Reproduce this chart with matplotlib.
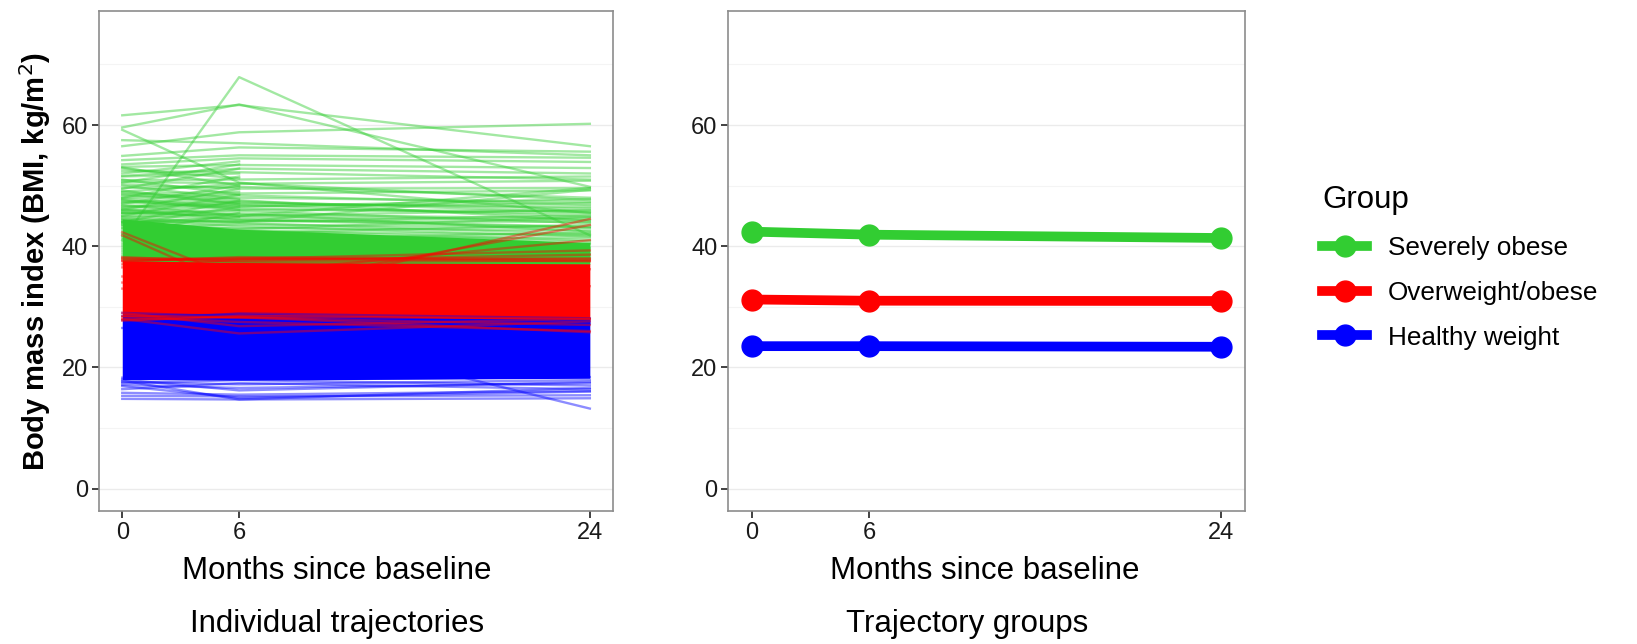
import numpy as np
import matplotlib
matplotlib.use("Agg")
import matplotlib.pyplot as plt
from matplotlib.lines import Line2D

plt.rcParams["font.family"] = ["Liberation Sans", "DejaVu Sans"]

months = [0, 6, 24]
groups = ["Severely obese", "Overweight/obese", "Healthy weight"]
colors = {"Severely obese": "#32CD32", "Overweight/obese": "#FF0000", "Healthy weight": "#0000FF"}

# group mean trajectories (BMI at 0, 6, 24 months)
mean_severe = [42.4, 41.9, 41.35]
mean_overweight = [31.2, 31.0, 30.95]
mean_healthy = [23.5, 23.5, 23.4]

# densest part of each group, where the individual lines merge into a solid band
core_severe_lo = [37.0, 37.0, 37.0]
core_severe_hi = [44.5, 42.8, 40.6]
core_overweight_lo = [28.4, 28.2, 28.0]
core_overweight_hi = [37.6, 37.3, 37.1]
core_healthy_lo = [18.0, 17.9, 18.2]
core_healthy_hi = [28.6, 28.4, 28.2]

nan = np.nan

# individual trajectories outside / at the edge of the dense bands
traj_severe = [
    [61.6, 63.3, 56.5], [59.6, 63.4, 49.8], [41.0, 67.9, 41.8], [59.2, 50.5, 45.5],
    [56.5, 58.8, 60.2], [54.9, 56.3, 55.6], [53.5, 54.5, 53.9], [53.1, 53.4, 52.9],
    [51.6, 52.8, 52.0], [50.9, 51.0, 51.5], [50.2, 49.5, 49.6], [49.0, 50.3, 50.8],
    [48.2, 48.7, 49.2], [47.3, 48.0, 47.3], [46.5, 47.0, 46.5], [57.5, 57.0, 55.0],
    [52.0, 54.0, nan], [50.5, 53.5, nan], [49.5, 52.8, nan], [48.0, 51.5, nan],
    [47.0, 50.0, nan], [46.0, 49.5, nan], [45.0, 48.5, nan], [44.0, 47.5, nan],
    [43.5, 46.5, nan], [42.0, 45.5, nan], [53.0, 50.0, nan], [51.0, 48.5, nan],
    [50.0, 47.8, nan], [49.2, 46.9, nan], [48.6, 49.0, nan], [47.6, 46.0, nan],
    [46.6, 47.2, nan], [45.6, 44.8, nan], [51.5, 52.0, nan], [52.8, 51.2, nan],
    [46.0, 45.2, 44.6], [45.5, 46.0, 45.8], [45.0, 44.5, 43.2], [44.6, 44.0, 45.1],
    [44.2, 43.8, 42.0], [43.8, 44.8, 44.3], [43.3, 42.5, 41.8], [42.9, 43.0, 42.6],
    [42.5, 42.0, 40.8], [42.1, 41.5, 41.4], [41.7, 41.9, 40.3], [41.2, 40.8, 39.8],
    [40.8, 41.2, 42.2], [40.4, 40.0, 39.2], [40.0, 39.6, 40.5], [39.6, 39.8, 38.8],
    [39.2, 38.9, 39.6], [38.8, 38.6, 38.2], [38.4, 38.8, 37.9], [38.0, 37.7, 38.6],
    [47.8, 46.5, 47.8], [46.8, 45.0, 46.0], [45.3, 45.8, 43.8], [44.0, 42.8, 44.8],
    [43.0, 43.6, 43.0], [44.5, 44.0, 49.3], [45.5, 45.0, 49.6], [48.5, 47.2, 46.2],
    [47.5, 46.2, 45.4], [46.3, 46.8, 44.9], [43.6, 42.2, 43.5], [41.5, 42.6, 41.0],
    [48.9, 47.6, 44.2], [47.1, 47.4, 45.6], [46.1, 44.3, 43.1], [45.8, 46.6, 47.1],
    [44.8, 45.4, 42.4], [44.3, 43.3, 41.6], [43.9, 44.2, 44.0], [47.9, 48.4, 46.8],
    [49.6, 49.8, 48.0], [50.6, 50.4, 47.6], [52.4, 52.2, 51.0], [54.2, 55.0, 54.6],
]
traj_overweight = [
    [41.8, 33.3, 33.4], [42.3, 34.7, nan], [33.0, 31.5, 44.5], [34.0, 33.0, 43.5],
    [35.0, 35.5, 41.0], [37.5, 38.2, 37.8], [37.8, 37.6, 38.6], [38.0, 37.9, 39.3],
    [37.6, 38.0, 37.5], [28.0, 25.6, 27.6], [28.3, 27.5, 26.0], [27.9, 28.2, 27.0],
    [29.0, 26.8, 28.0], [28.5, 28.3, 25.8], [27.7, 28.5, 28.0], [37.0, 37.0, 36.2],
    [36.5, 37.8, 38.0], [38.2, 37.4, 37.6],
]
traj_healthy = [
    [17.6, 17.2, 17.9], [17.1, 16.6, 17.4], [15.8, 15.5, 16.1], [15.3, 15.2, 15.4],
    [14.8, 14.7, 14.9], [17.8, 14.7, 16.6], [16.9, 15.0, 16.0], [26.5, 27.4, 13.2],
    [18.3, 18.0, 18.4], [17.4, 17.9, 17.0], [16.4, 17.4, 16.4], [18.0, 16.2, 17.6],
    [28.5, 28.7, 27.2], [27.8, 28.9, 28.1], [29.0, 28.4, 27.6],
]

fig = plt.figure(figsize=(16.37, 6.44), dpi=100)
ax1 = fig.add_axes([0.0604, 0.2061, 0.3142, 0.7762])
ax2 = fig.add_axes([0.4450, 0.2061, 0.3155, 0.7762])


def style_axis(ax):
    ax.set_xlim(-1.2, 25.2)
    ax.set_ylim(-3.75, 78.75)
    ax.set_xticks(months)
    ax.set_yticks([0, 20, 40, 60])
    ax.set_yticks([10, 30, 50, 70], minor=True)
    ax.grid(axis="y", which="major", color="#ebebeb", lw=1.0, zorder=0)
    ax.grid(axis="y", which="minor", color="#f4f4f4", lw=0.8, zorder=0)
    ax.tick_params(axis="y", which="minor", length=0)
    ax.tick_params(which="major", length=5, width=1.3, color="#333333",
                   labelsize=17, labelcolor="#1a1a1a", pad=3)
    for s in ax.spines.values():
        s.set_color("#8c8c8c")
        s.set_linewidth(1.2)
    ax.set_axisbelow(True)


style_axis(ax1)
style_axis(ax2)

# left panel: individual trajectories
bands = [
    ("Severely obese", core_severe_lo, core_severe_hi, traj_severe),
    ("Healthy weight", core_healthy_lo, core_healthy_hi, traj_healthy),
    ("Overweight/obese", core_overweight_lo, core_overweight_hi, traj_overweight),
]
for name, lo, hi, trajs in bands:
    c = colors[name]
    ax1.fill_between(months, lo, hi, color=c, lw=0, zorder=2)
    for t in trajs:
        ax1.plot(months, t, color=c, alpha=0.45, lw=1.7, zorder=3)

ax1.set_ylabel("Body mass index (BMI, kg/m$^2$)", fontsize=21, fontweight="bold", labelpad=6)

# right panel: group means
for name, vals in zip(groups, [mean_severe, mean_overweight, mean_healthy]):
    ax2.plot(months, vals, color=colors[name], lw=7, marker="o", ms=15,
             solid_capstyle="butt", zorder=3)

fig.text(0.2057, 0.1134, "Months since baseline", ha="center", va="center", fontsize=22.5)
fig.text(0.2060, 0.031, "Individual trajectories", ha="center", va="center", fontsize=22.5)
fig.text(0.6018, 0.1134, "Months since baseline", ha="center", va="center", fontsize=22.5)
fig.text(0.5910, 0.031, "Trajectory groups", ha="center", va="center", fontsize=22.5)

handles = [Line2D([], [], color=colors[g], lw=7, marker="o", ms=15) for g in groups]
leg = fig.legend(handles, groups, title="Group", loc="upper left",
                 bbox_to_anchor=(0.8015, 0.729), frameon=False, fontsize=18.8,
                 title_fontsize=22.5, handlelength=1.7, handletextpad=0.8,
                 labelspacing=0.8, borderaxespad=0)
leg._legend_box.align = "left"

fig.savefig("out.png", dpi=100)
